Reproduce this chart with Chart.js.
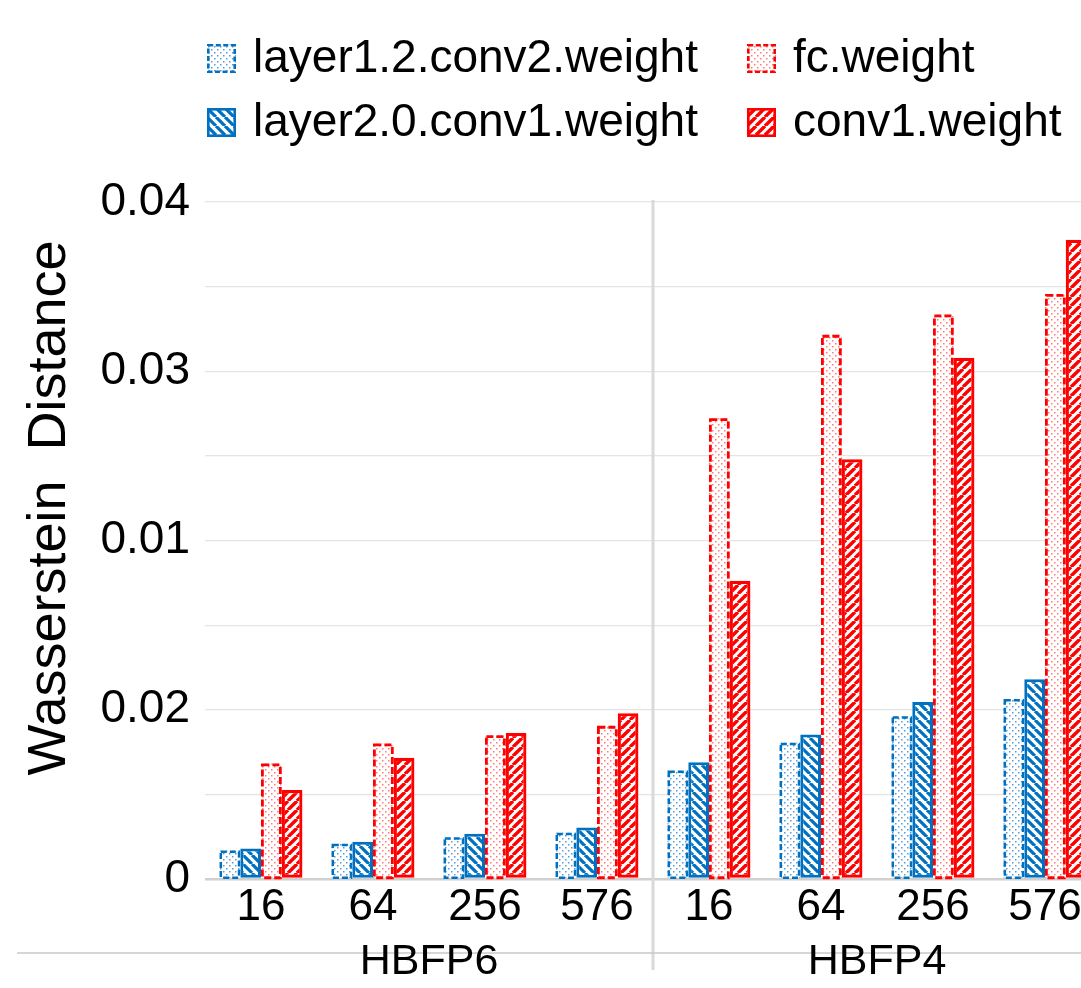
<!DOCTYPE html>
<html>
<head>
<meta charset="utf-8">
<script src="https://cdn.jsdelivr.net/npm/chart.js@4.4.0/dist/chart.umd.min.js"></script>
<style>
  html, body { margin: 0; padding: 0; background: #fff; overflow: hidden; }
  #wrap { width: 1110px; height: 988px; }
</style>
</head>
<body>
<div id="wrap"><canvas id="chart" width="1110" height="988"></canvas></div>
<script>
// Data
const categories = ['16', '64', '256', '576', '16', '64', '256', '576'];
const groups = ['HBFP6', 'HBFP4'];
const yTickLabels = ['0', '', '0.02', '', '0.01', '', '0.03', '', '0.04'];
const seriesNames = ['layer1.2.conv2.weight', 'layer2.0.conv1.weight', 'fc.weight', 'conv1.weight'];
const yTitle = 'Wasserstein  Distance';

const layer12Values = [0.00168, 0.00208, 0.00247, 0.00273, 0.00641, 0.00805, 0.00962, 0.01064];
const layer20Values = [0.00180, 0.00220, 0.00267, 0.00304, 0.00690, 0.00854, 0.01046, 0.01180];
const fcValues      = [0.00683, 0.00801, 0.00850, 0.00905, 0.02723, 0.03215, 0.03336, 0.03456];
const conv1Values   = [0.00526, 0.00716, 0.00863, 0.00980, 0.01762, 0.02480, 0.03080, 0.03777];

const FONT = "'Liberation Sans', Arial, sans-serif";
const BLUE = '#0070C0';
const RED = '#FF0000';

const canvas = document.getElementById('chart');
const ctx = canvas.getContext('2d');

function dotPattern(color) {
    const c = document.createElement('canvas');
    c.width = 6; c.height = 6;
    const g = c.getContext('2d');
    g.fillStyle = '#fff';
    g.fillRect(0, 0, 6, 6);
    g.fillStyle = color;
    g.fillRect(1, 1, 1.5, 1.5);
    g.fillRect(4, 4, 1.5, 1.5);
    return ctx.createPattern(c, 'repeat');
}

function hatchPattern(color, dir, size, lw) {
    const c = document.createElement('canvas');
    c.width = size; c.height = size;
    const g = c.getContext('2d');
    g.fillStyle = '#fff';
    g.fillRect(0, 0, size, size);
    g.strokeStyle = color;
    g.lineWidth = lw;
    g.beginPath();
    for (let k = -1; k <= 1; k++) {
        if (dir === '/') {
            g.moveTo(k * size, size);
            g.lineTo(k * size + size, 0);
        } else {
            g.moveTo(k * size, 0);
            g.lineTo(k * size + size, size);
        }
    }
    g.stroke();
    return ctx.createPattern(c, 'repeat');
}

const datasets = [
    { label: seriesNames[0], data: layer12Values, backgroundColor: dotPattern('#5B9BD5'),
      borderWidth: 0, edge: BLUE, edgeWidth: 2.5, dash: [6, 3] },
    { label: seriesNames[1], data: layer20Values, backgroundColor: hatchPattern(BLUE, '\\', 9, 3.2),
      borderColor: BLUE, borderWidth: 3, borderSkipped: false, edge: BLUE, edgeWidth: 2.5 },
    { label: seriesNames[2], data: fcValues, backgroundColor: dotPattern('#FF7A7A'),
      borderWidth: 0, edge: RED, edgeWidth: 2.8, dash: [7, 3] },
    { label: seriesNames[3], data: conv1Values, backgroundColor: hatchPattern(RED, '/', 9, 3.4),
      borderColor: RED, borderWidth: 3.2, borderSkipped: false, edge: RED, edgeWidth: 3 }
];

const decorPlugin = {
    id: 'decor',
    beforeDatasetsDraw(chart) {
        const c = chart.ctx;
        const xs = chart.scales.x;
        const area = chart.chartArea;
        c.save();
        // group separator
        const sepX = (xs.getPixelForValue(3) + xs.getPixelForValue(4)) / 2;
        c.strokeStyle = '#d9d9d9';
        c.lineWidth = 3;
        c.beginPath();
        c.moveTo(sepX, area.top - 2);
        c.lineTo(sepX, 970);
        c.stroke();
        // line under the tick labels
        c.strokeStyle = '#c8c8c8';
        c.lineWidth = 1.5;
        c.beginPath();
        c.moveTo(17, 953);
        c.lineTo(chart.width, 953);
        c.stroke();
        // group labels
        c.fillStyle = '#000';
        c.font = '43px ' + FONT;
        c.textAlign = 'center';
        c.textBaseline = 'alphabetic';
        groups.forEach((name, gi) => {
            const a = xs.getPixelForValue(gi * 4);
            const b = xs.getPixelForValue(gi * 4 + 3);
            c.fillText(name, (a + b) / 2, 974);
        });
        c.restore();
    },
    afterDatasetsDraw(chart) {
        const c = chart.ctx;
        c.save();
        chart.data.datasets.forEach((ds, i) => {
            if (!ds.dash) return;
            const meta = chart.getDatasetMeta(i);
            c.strokeStyle = ds.edge;
            c.lineWidth = ds.edgeWidth;
            c.setLineDash(ds.dash);
            meta.data.forEach(bar => {
                const p = bar.getProps(['x', 'y', 'base', 'width'], true);
                const h = ds.edgeWidth / 2;
                c.strokeRect(p.x - p.width / 2 + h, p.y + h, p.width - 2 * h, p.base - p.y - h);
            });
        });
        c.restore();
    },
    afterDraw(chart) {
        const c = chart.ctx;
        c.save();
        // legend, two columns
        const order = [0, 2, 1, 3];
        const cols = [207, 747];
        const rows = [44, 108];
        order.forEach((idx, n) => {
            const ds = chart.data.datasets[idx];
            const x = cols[n % 2];
            const y = rows[Math.floor(n / 2)];
            c.fillStyle = ds.backgroundColor;
            c.fillRect(x, y, 29, 29);
            c.setLineDash(ds.dash ? [5, 2.5] : []);
            c.strokeStyle = ds.edge;
            c.lineWidth = 2.6;
            c.strokeRect(x + 1.3, y + 1.3, 26.4, 26.4);
            c.setLineDash([]);
            c.fillStyle = '#000';
            c.font = '46px ' + FONT;
            c.textAlign = 'left';
            c.textBaseline = 'alphabetic';
            c.fillText(ds.label, x + 46, y + 28);
        });
        // y axis title
        c.translate(50, 508);
        c.rotate(-Math.PI / 2);
        c.font = '54px ' + FONT;
        c.textAlign = 'center';
        c.textBaseline = 'middle';
        c.fillStyle = '#000';
        c.fillText(yTitle, 0, 0);
        c.restore();
    }
};

new Chart(ctx, {
    type: 'bar',
    data: { labels: categories, datasets: datasets },
    options: {
        responsive: false,
        animation: false,
        devicePixelRatio: 1,
        layout: { padding: { top: 202, right: 9, bottom: 0, left: 0 } },
        datasets: { bar: { categoryPercentage: 0.74, barPercentage: 1 } },
        plugins: {
            legend: { display: false },
            tooltip: { enabled: false }
        },
        scales: {
            x: {
                grid: { display: false },
                border: { display: false },
                ticks: {
                    color: '#000', padding: -6, maxRotation: 0, autoSkip: false,
                    font: { family: FONT, size: 44 }
                },
                afterFit: s => { s.height = 109; }
            },
            y: {
                min: 0,
                max: 0.04,
                border: { display: false },
                grid: {
                    drawTicks: false,
                    color: c => c.index === 0 ? '#d0d0d0' : '#e4e4e4',
                    lineWidth: c => c.index === 0 ? 2.5 : 1.2
                },
                ticks: {
                    stepSize: 0.005,
                    padding: 15,
                    color: '#000',
                    font: { family: FONT, size: 46 },
                    callback: (v, i) => yTickLabels[i]
                },
                afterFit: s => { s.width = 205; }
            }
        }
    },
    plugins: [decorPlugin]
});
</script>
</body>
</html>
